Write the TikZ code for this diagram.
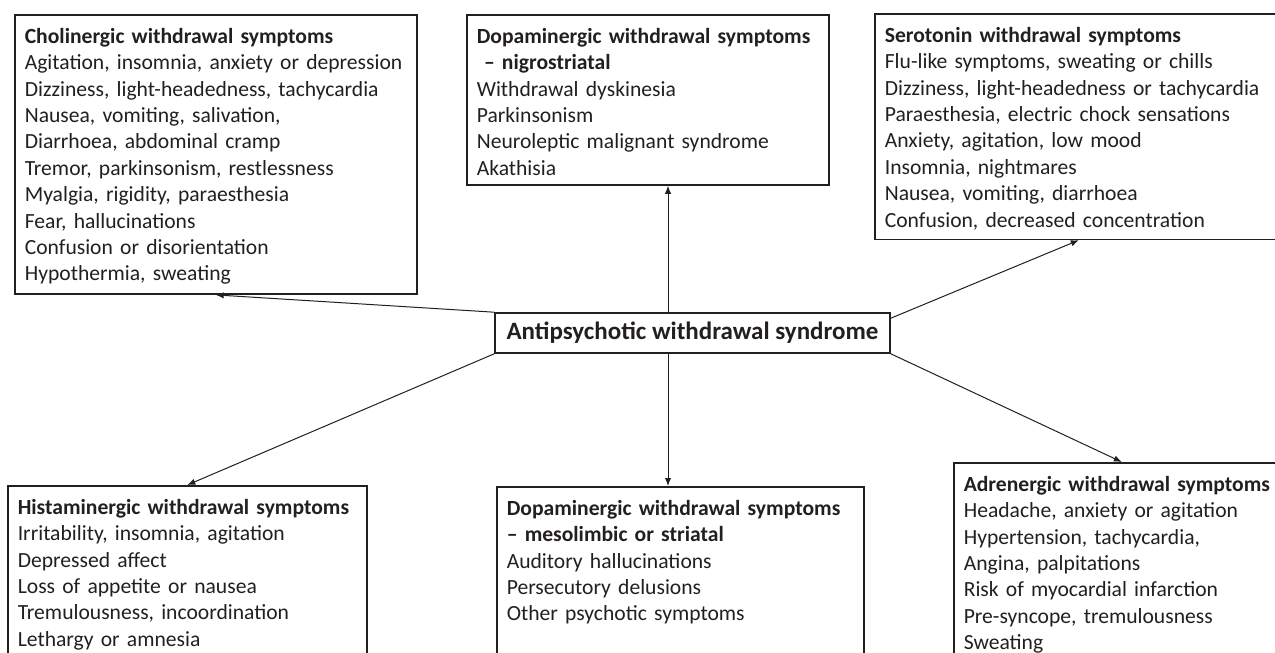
\documentclass[tikz,border=0pt]{standalone}
\usepackage{fontspec}
\setmainfont{Carlito}
\usetikzlibrary{arrows.meta}
\definecolor{inkgray}{RGB}{35,31,32}

\begin{document}
\begin{tikzpicture}[x=0.5pt, y=-0.5pt,
  every node/.style={font=\fontsize{10.8}{13.2}\selectfont, text=inkgray},
  symbox/.style={draw=inkgray, line width=0.8pt, anchor=north west, align=left, inner xsep=5pt, inner ysep=4.75pt,
                 execute at begin node={\rule{0pt}{9.5pt}}},
  arr/.style={-{Latex[length=4pt,width=3.2pt]}, draw=inkgray, line width=0.5pt}]
  \useasboundingbox (0,0) rectangle (1275,653);
  \clip (0,0) rectangle (1275,653);

  % Centre
  \node[draw=inkgray, line width=0.8pt, minimum width=197.5pt, minimum height=20pt, inner sep=0pt,
        font=\fontsize{12.5}{15}\selectfont\bfseries] (aws) at (692.5,333) {Antipsychotic withdrawal syndrome};

  % Upper row
  \node[symbox, text width=191pt] (chol) at (14,14) {\textbf{Cholinergic withdrawal symptoms}\\
    Agitation, insomnia, anxiety or depression\\
    Dizziness, light-headedness, tachycardia\\
    Nausea, vomiting, salivation,\\
    Diarrhoea, abdominal cramp\\
    Tremor, parkinsonism, restlessness\\
    Myalgia, rigidity, paraesthesia\\
    Fear, hallucinations\\
    Confusion or disorientation\\
    Hypothermia, sweating};
  \node[symbox, text width=171pt] (nigro) at (466,14) {\textbf{Dopaminergic withdrawal symptoms}\\
    \textbf{\ -- nigrostriatal}\\
    Withdrawal dyskinesia\\
    Parkinsonism\\
    Neuroleptic malignant syndrome\\
    Akathisia};
  \node[symbox, text width=194pt] (sero) at (874,13) {\textbf{Serotonin withdrawal symptoms}\\
    Flu-like symptoms, sweating or chills\\
    Dizziness, light-headedness or tachycardia\\
    Paraesthesia, electric chock sensations\\
    Anxiety, agitation, low mood\\
    Insomnia, nightmares\\
    Nausea, vomiting, diarrhoea\\
    Confusion, decreased concentration};

  % Lower row
  \node[symbox, text width=169.5pt] (hist) at (7,485) {\textbf{Histaminergic withdrawal symptoms}\\
    Irritability, insomnia, agitation\\
    Depressed affect\\
    Loss of appetite or nausea\\
    Tremulousness, incoordination\\
    Lethargy or amnesia};
  \node[symbox, text width=173.5pt] (meso) at (496,486) {\textbf{Dopaminergic withdrawal symptoms}\\
    \textbf{-- mesolimbic or striatal}\\
    Auditory hallucinations\\
    Persecutory delusions\\
    Other psychotic symptoms\\[40pt]\mbox{}};
  \node[symbox, text width=158pt] (adre) at (953,462) {\textbf{Adrenergic withdrawal symptoms}\\
    Headache, anxiety or agitation\\
    Hypertension, tachycardia,\\
    Angina, palpitations\\
    Risk of myocardial infarction\\
    Pre-syncope, tremulousness\\
    Sweating};

  % Arrows
  \coordinate (vline) at (668,333);
  \draw[arr] (aws.north west) -- (chol.south);
  \draw[arr] (vline |- aws.north) -- (vline |- nigro.south);
  \draw[arr] ([yshift=-3pt]aws.north east) -- (sero.south);
  \draw[arr] (aws.south west) -- (hist.north);
  \draw[arr] (vline |- aws.south) -- (vline |- meso.north);
  \draw[arr] (aws.south east) -- (adre.north);
\end{tikzpicture}
\end{document}
